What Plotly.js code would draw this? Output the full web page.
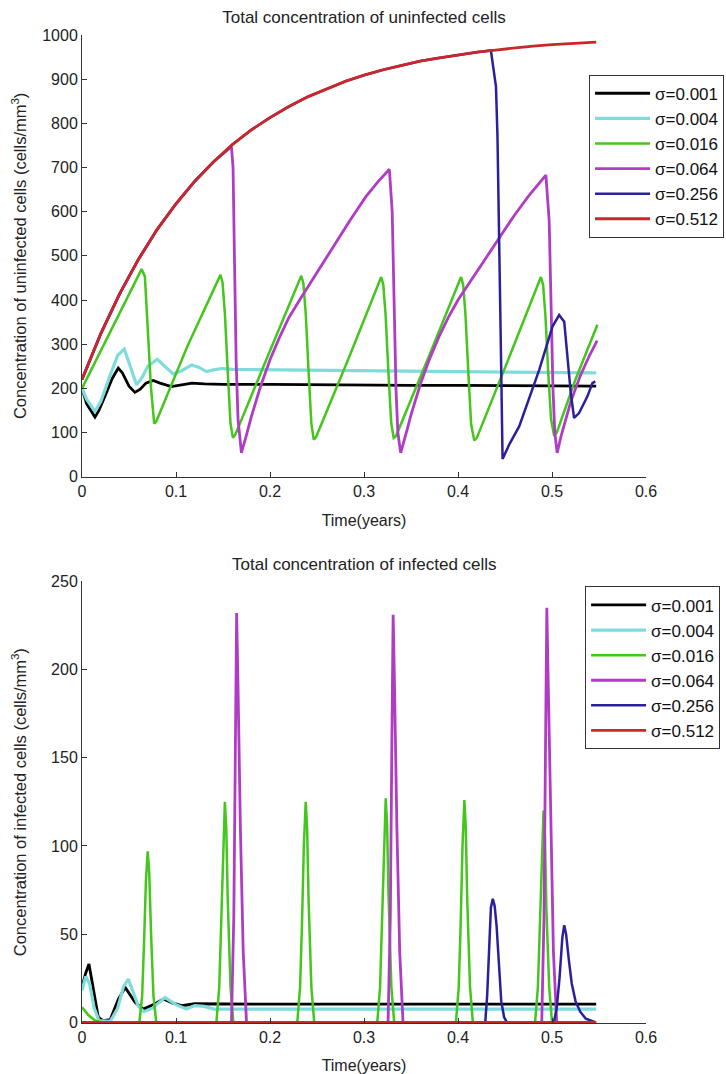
<!DOCTYPE html>
<html><head><meta charset="utf-8">
<script src="https://cdn.plot.ly/plotly-3.0.1.min.js"></script>
<style>html,body{margin:0;padding:0;background:#fff}#chart{width:726px;height:1074px}</style>
</head><body><div id="chart"></div>
<script>
// ---------- DATA ----------
const seriesNames = ['\u03c3=0.001','\u03c3=0.004','\u03c3=0.016','\u03c3=0.064','\u03c3=0.256','\u03c3=0.512'];

// Top chart: total concentration of uninfected cells
const tUBlack = [0,0.005,0.0138,0.018,0.025,0.032,0.0386,0.043,0.05,0.0563,0.062,0.068,0.0757,0.083,0.095,0.105,0.117,0.13,0.15,0.2,0.25,0.3,0.35,0.4,0.45,0.5,0.547];
const vUBlack = [200,165,135,150,185,222,246,235,205,191,198,212,218,212,204,208,212,210,209,209,208,208,207,207,206,206,205];

const tUCyan = [0,0.005,0.0138,0.02,0.03,0.038,0.045,0.051,0.058,0.064,0.07,0.08,0.088,0.097,0.106,0.1165,0.124,0.1324,0.14,0.149,0.16,0.2,0.3,0.4,0.5,0.547];
const vUCyan = [200,175,148,170,230,275,289,250,208,225,250,266,250,233,240,253,248,238,242,245,243,242,240,238,236,235];

const tUGreen = [0,0.0634,0.0669,0.0704,0.0733,0.0768,0.079,0.112,0.1473,0.1495,0.152,0.155,0.158,0.1605,0.163,0.198,0.2333,0.2355,0.238,0.241,0.244,0.2465,0.249,0.284,0.3183,0.3205,0.323,0.326,0.329,0.3316,0.334,0.369,0.4032,0.4055,0.408,0.411,0.414,0.4173,0.42,0.454,0.4882,0.4905,0.493,0.496,0.499,0.5023,0.505,0.525,0.5483];
const vUGreen = [200,470,453,317,204,120,125,295,457,440,370,240,120,88,95,275,455,438,370,240,120,84,90,270,452,435,365,235,120,88,92,272,452,435,365,235,118,82,88,268,452,435,365,235,130,92,100,220,344];

const tUMagenta = [0,0.02,0.04,0.06,0.08,0.10,0.12,0.14,0.159,0.1607,0.162,0.164,0.166,0.1696,0.175,0.18,0.19,0.20,0.21,0.22,0.2315,0.25,0.267,0.285,0.302,0.315,0.327,0.330,0.332,0.334,0.336,0.339,0.345,0.35,0.36,0.37,0.38,0.39,0.40,0.42,0.44,0.46,0.475,0.487,0.4935,0.497,0.499,0.501,0.503,0.5055,0.51,0.52,0.53,0.54,0.548];
const vUMagenta = [220,324,414,492,560,618,669,713,747,700,520,260,130,54,95,135,205,265,315,360,400,462,521,580,634,668,696,600,400,200,100,54,100,140,210,268,318,362,400,465,530,592,635,665,683,580,400,200,100,54,95,170,228,275,308];

const tUBlue = [0,0.02,0.04,0.06,0.08,0.10,0.12,0.14,0.16,0.18,0.20,0.22,0.24,0.26,0.28,0.30,0.32,0.34,0.36,0.38,0.40,0.42,0.435,0.4404,0.442,0.4439,0.4457,0.4474,0.455,0.4651,0.4864,0.5005,0.5076,0.513,0.5164,0.52,0.5235,0.5288,0.5377,0.543,0.546];
const vUBlue = [220,324,414,492,560,618,669,713,752,785,813,838,860,878,895,909,921,931,941,948,955,961,965,883,770,551,280,40,75,114,242,340,366,351,280,189,133,144,182,212,216];

const tURed = [0,0.02,0.04,0.06,0.08,0.10,0.12,0.14,0.16,0.18,0.20,0.22,0.24,0.26,0.28,0.30,0.32,0.34,0.36,0.38,0.40,0.42,0.44,0.46,0.48,0.50,0.52,0.547];
const vURed = [220,324,414,492,560,618,669,713,752,785,813,838,860,878,895,909,921,931,941,948,955,961,966,971,975,978,981,984];

// Bottom chart: total concentration of infected cells
const tIBlack = [0,0.004,0.0074,0.011,0.0173,0.022,0.03,0.0386,0.046,0.0564,0.0652,0.076,0.0865,0.096,0.106,0.12,0.15,0.2,0.3,0.4,0.5,0.547];
const vIBlack = [20,28,33,22,3,1,1.5,13,19.8,11.3,7.5,10,13.2,11,9.4,10.5,10.3,10.3,10.3,10.3,10.3,10.3];

const tICyan = [0,0.004,0.008,0.013,0.018,0.03,0.038,0.044,0.0493,0.054,0.06,0.066,0.075,0.0883,0.1,0.111,0.12,0.13,0.14,0.16,0.2,0.3,0.4,0.5,0.547];
const vICyan = [18,26,22,8,1,0.5,8,20,24.5,18,9,6,8,14,10,7.5,9.5,9,7.5,7.5,7.5,7.5,7.5,7.5,7.5];

const tIGreen = [0,0.007,0.0138,0.02,0.061,0.064,0.066,0.068,0.0699,0.0715,0.0735,0.076,0.079,0.143,0.146,0.148,0.150,0.152,0.1535,0.155,0.158,0.161,0.229,0.232,0.234,0.236,0.238,0.2395,0.241,0.244,0.247,0.3141,0.3171,0.3191,0.3211,0.3231,0.3246,0.3261,0.3291,0.3321,0.3978,0.4008,0.4028,0.4048,0.4068,0.4083,0.4098,0.4128,0.4158,0.482,0.485,0.487,0.489,0.491,0.4925,0.494,0.497,0.50,0.547];
const vIGreen = [8.5,4,1,0,0,15,45,80,97,85,50,15,0,0,20,55,100,125,110,70,20,0,0,20,55,100,125,110,70,20,0,0,20,55,100,127,112,72,20,0,0,20,55,100,126,110,70,20,0,0,20,55,95,120,105,65,20,0,0];

const tIMagenta = [0,0.159,0.1615,0.163,0.1645,0.166,0.1685,0.1715,0.175,0.3256,0.328,0.3295,0.331,0.3325,0.335,0.338,0.3415,0.4891,0.4915,0.493,0.4945,0.496,0.4985,0.5015,0.505,0.547];
const vIMagenta = [0,0,60,150,232,190,110,40,0,0,60,150,231,190,110,40,0,0,60,150,235,192,112,40,0,0];

const tIBlue = [0,0.429,0.431,0.433,0.435,0.437,0.439,0.441,0.443,0.446,0.449,0.452,0.502,0.505,0.508,0.511,0.513,0.515,0.518,0.521,0.525,0.53,0.536,0.546];
const vIBlue = [0,0,15,45,65,70,66,55,35,12,3,0,0,8,25,48,55,50,35,22,12,6,2,0];

const tIRed = [0,0.547];
const vIRed = [0,0];

const xTickVals = [0,0.1,0.2,0.3,0.4,0.5,0.6];
const xTickText = ['0','0.1','0.2','0.3','0.4','0.5','0.6'];
const yTopTicks = [0,100,200,300,400,500,600,700,800,900,1000];
const yBotTicks = [0,50,100,150,200,250];

// ---------- STYLE ----------
const colors = ['#000000','#80dcdc','#44c61c','#b03cc6','#2a1f9c','#c8282a'];
const widths = [2.8,3.2,2.5,2.8,2.5,2.8];
const FONT = '"Liberation Sans", Arial, sans-serif';

const topData = [[tUBlack,vUBlack],[tUCyan,vUCyan],[tUGreen,vUGreen],[tUMagenta,vUMagenta],[tUBlue,vUBlue],[tURed,vURed]];
const botData = [[tIBlack,vIBlack],[tICyan,vICyan],[tIGreen,vIGreen],[tIMagenta,vIMagenta],[tIBlue,vIBlue],[tIRed,vIRed]];

const traces = [];
topData.forEach((d,i) => traces.push({x:d[0], y:d[1], type:'scatter', mode:'lines', name:seriesNames[i],
  line:{color:colors[i], width:widths[i]}, xaxis:'x', yaxis:'y', legend:'legend'}));
botData.forEach((d,i) => traces.push({x:d[0], y:d[1], type:'scatter', mode:'lines', name:seriesNames[i],
  line:{color:colors[i], width:widths[i]}, xaxis:'x2', yaxis:'y2', legend:'legend2'}));

const axisStyle = {showline:true, linecolor:'#333', linewidth:1, ticks:'inside', ticklen:5, tickwidth:1,
  tickcolor:'#333', showgrid:false, zeroline:false, automargin:false, tickfont:{size:16, color:'#222'}, mirror:false};

const legendStyle = {xanchor:'left', yanchor:'top', bgcolor:'#fff', bordercolor:'#333', borderwidth:1,
  font:{size:17, color:'#111'}, itemwidth:55, tracegroupgap:0};

const layout = {
  width:726, height:1074,
  margin:{l:82, r:80, t:35, b:51, autoexpand:false},
  paper_bgcolor:'#fff', plot_bgcolor:'#fff',
  font:{family:FONT, size:16, color:'#222'},
  showlegend:true,
  title:{text:'Total concentration of uninfected cells', x:0.5, xref:'paper', xanchor:'center',
         y:1-17/1074, yref:'container', yanchor:'middle', font:{size:17, color:'#222'}},
  xaxis:Object.assign({}, axisStyle, {domain:[0,1], anchor:'y', range:[0,0.6], tickvals:xTickVals, ticktext:xTickText,
         title:{text:'Time(years)', standoff:15, font:{size:16}}}),
  yaxis:Object.assign({}, axisStyle, {domain:[0.5529,1], anchor:'x', range:[0,1000], tickvals:yTopTicks,
         title:{text:'Concentration of uninfected cells (cells/mm<sup>3</sup>)', standoff:11, font:{size:16.5}}}),
  xaxis2:Object.assign({}, axisStyle, {domain:[0,1], anchor:'y2', range:[0,0.6], tickvals:xTickVals, ticktext:xTickText,
         title:{text:'Time(years)', standoff:14, font:{size:16}}}),
  yaxis2:Object.assign({}, axisStyle, {domain:[0,0.447], anchor:'x2', range:[-0.4,250], tickvals:yBotTicks,
         title:{text:'Concentration of infected cells (cells/mm<sup>3</sup>)', standoff:20, font:{size:16.5}}}),
  legend:Object.assign({}, legendStyle, {x:0.899, y:0.9598}),
  legend2:Object.assign({}, legendStyle, {x:0.892, y:0.4419}),
  annotations:[{text:'Total concentration of infected cells', xref:'paper', yref:'paper', x:0.5, y:0.4639,
    xanchor:'center', yanchor:'middle', showarrow:false, font:{size:17, color:'#222'}}]
};

Plotly.newPlot('chart', traces, layout, {displayModeBar:false, staticPlot:true});
</script>
</body></html>
